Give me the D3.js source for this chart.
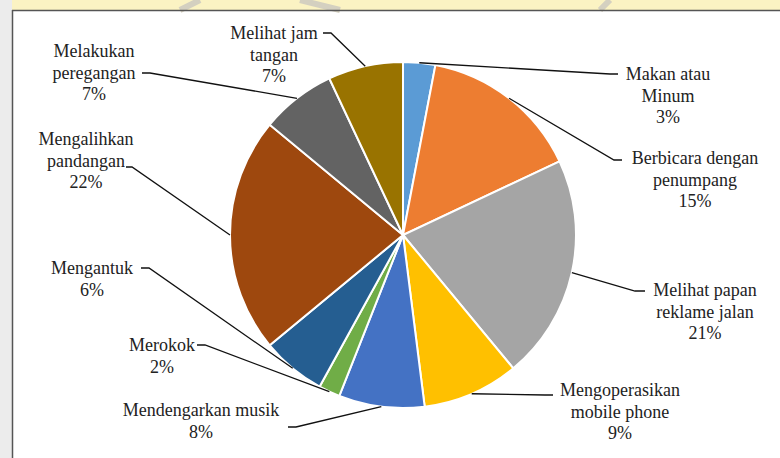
<!DOCTYPE html>
<html>
<head>
<meta charset="utf-8">
<script src="https://cdn.jsdelivr.net/npm/d3@7"></script>
<style>
body{margin:0;background:#fff;}
</style>
</head>
<body>
<script>
var width=780,height=458;

// data
var categories = [
	["Makan atau","Minum"],
	["Berbicara dengan","penumpang"],
	["Melihat papan","reklame jalan"],
	["Mengoperasikan","mobile phone"],
	["Mendengarkan musik"],
	["Merokok"],
	["Mengantuk"],
	["Mengalihkan","pandangan"],
	["Melakukan","peregangan"],
	["Melihat jam","tangan"]
];
var values = [3,15,21,9,8,2,6,22,7,7];
var colors = ["#5b9bd5","#ed7d31","#a5a5a5","#ffc000","#4472c4","#70ad47","#255e91","#9e480e","#636363","#997300"];

// label layout: text centre x, first line y, leader anchor, stub end
var labelLayout = [
	{x:668,y:74,ax:618,ay:74,sx:610},
	{x:695,y:158,ax:622,ay:160,sx:614},
	{x:705,y:290,ax:645,ay:291,sx:635},
	{x:620,y:390,ax:553,ay:395,sx:545},
	{x:201,y:410,ax:288,ay:427,sx:296},
	{x:162,y:345,ax:197,ay:345,sx:205},
	{x:92,y:268,ax:141,ay:268,sx:149},
	{x:86,y:139,ax:126,ay:167,sx:132},
	{x:94,y:51,ax:142,ay:73,sx:150},
	{x:274,y:33,ax:323,ay:33,sx:331}
];

var cx=403,cy=235,r=173;

var svg = d3.select("body").append("svg")
	.attr("width",width)
	.attr("height",height);

// page remnants around the figure
svg.append("rect").attr("width",width).attr("height",10).attr("fill","#fbf3c3");
svg.append("rect").attr("width",12).attr("height",height).attr("fill","#ececec");
svg.append("path").attr("d","M300,0 L340,10 M610,0 L600,10 M200,0 L180,10").attr("stroke","#d4d0c0").attr("stroke-width",6);
svg.append("line").attr("x1",12).attr("x2",width).attr("y1",10.5).attr("y2",10.5).attr("stroke","#555").attr("stroke-width",1.5);
svg.append("line").attr("x1",12.5).attr("x2",12.5).attr("y1",10).attr("y2",height).attr("stroke","#555").attr("stroke-width",1.5);

var pie = d3.pie().sort(null).value(function(d){return d;});
var arcs = pie(values);
var arc = d3.arc().innerRadius(0).outerRadius(r);

var g = svg.append("g").attr("transform","translate("+cx+","+cy+")");
g.selectAll("path")
	.data(arcs)
	.enter().append("path")
	.attr("d",arc)
	.attr("fill",function(d,i){return colors[i];})
	.attr("stroke","#fff")
	.attr("stroke-width",2);

// leader lines
var leaders = svg.append("g");
arcs.forEach(function(d,i){
	var a=(d.startAngle+d.endAngle)/2;
	var px=cx+r*Math.sin(a), py=cy-r*Math.cos(a);
	var L=labelLayout[i];
	leaders.append("path")
		.attr("d","M"+px+","+py+" L"+L.sx+","+L.ay+" L"+L.ax+","+L.ay)
		.attr("fill","none")
		.attr("stroke","#111")
		.attr("stroke-width",1.3);
});

// labels
var lab = svg.append("g").selectAll("text")
	.data(categories)
	.enter().append("text")
	.attr("text-anchor","middle")
	.attr("font-family","Liberation Serif")
	.attr("font-size",18)
	.attr("fill","#222");
lab.each(function(d,i){
	var t=d3.select(this), L=labelLayout[i];
	var lines=d.concat([values[i]+"%"]);
	lines.forEach(function(s,k){
		t.append("tspan").attr("x",L.x).attr("y",L.y+k*21.5).attr("dy","0.35em").text(s);
	});
});
</script>
</body>
</html>
